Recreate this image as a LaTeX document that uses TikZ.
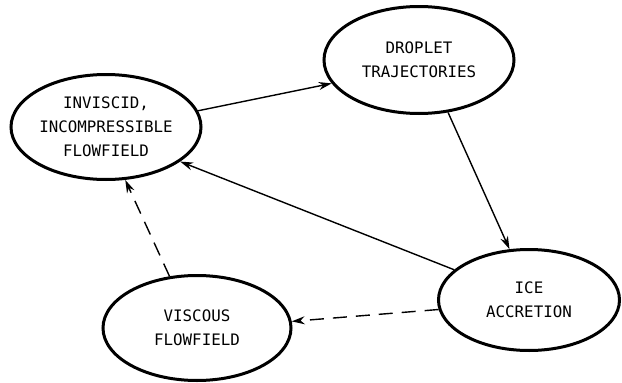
\documentclass[tikz,border=0pt]{standalone}
\usepackage{fontspec}
\newfontfamily\labelfont{DejaVu Sans Mono}
\usetikzlibrary{shapes.geometric}
\usetikzlibrary{arrows.meta}

\begin{document}
\begin{tikzpicture}[x={(1pt,0)}, y={(0,-1pt)},
                    bubble/.style={ellipse, draw, line width=3pt, inner xsep=-4pt, inner ysep=-4pt,
                                   align=center, font=\labelfont\fontsize{15.8}{24}\selectfont},
                    flow/.style={line width=1.4pt, -{Stealth[length=13pt,width=8pt]}},
                    feed/.style={flow, dash pattern=on 14pt off 9pt}]
    \useasboundingbox (0,0) rectangle (622,383);
    \node [bubble, minimum width=190pt, minimum height=105pt] (inv) at (106,127)
        {INVISCID,\\INCOMPRESSIBLE\\FLOWFIELD};
    \node [bubble, minimum width=190pt, minimum height=107pt] (drop) at (419,60)
        {DROPLET\\TRAJECTORIES};
    \node [bubble, minimum width=181pt, minimum height=101pt] (ice) at (529,300)
        {ICE\\ACCRETION};
    \node [bubble, minimum width=188pt, minimum height=105pt] (visc) at (197,328)
        {VISCOUS\\FLOWFIELD};
    \draw [flow] (inv.10) -- (drop.195);
    \draw [flow] (drop.299) -- (ice.111);
    \draw [flow] (ice.158) -- (inv.335);
    \draw [feed] (ice.186) -- (visc.4);
    \draw [feed] (visc.118) -- (inv.290);
\end{tikzpicture}
\end{document}
